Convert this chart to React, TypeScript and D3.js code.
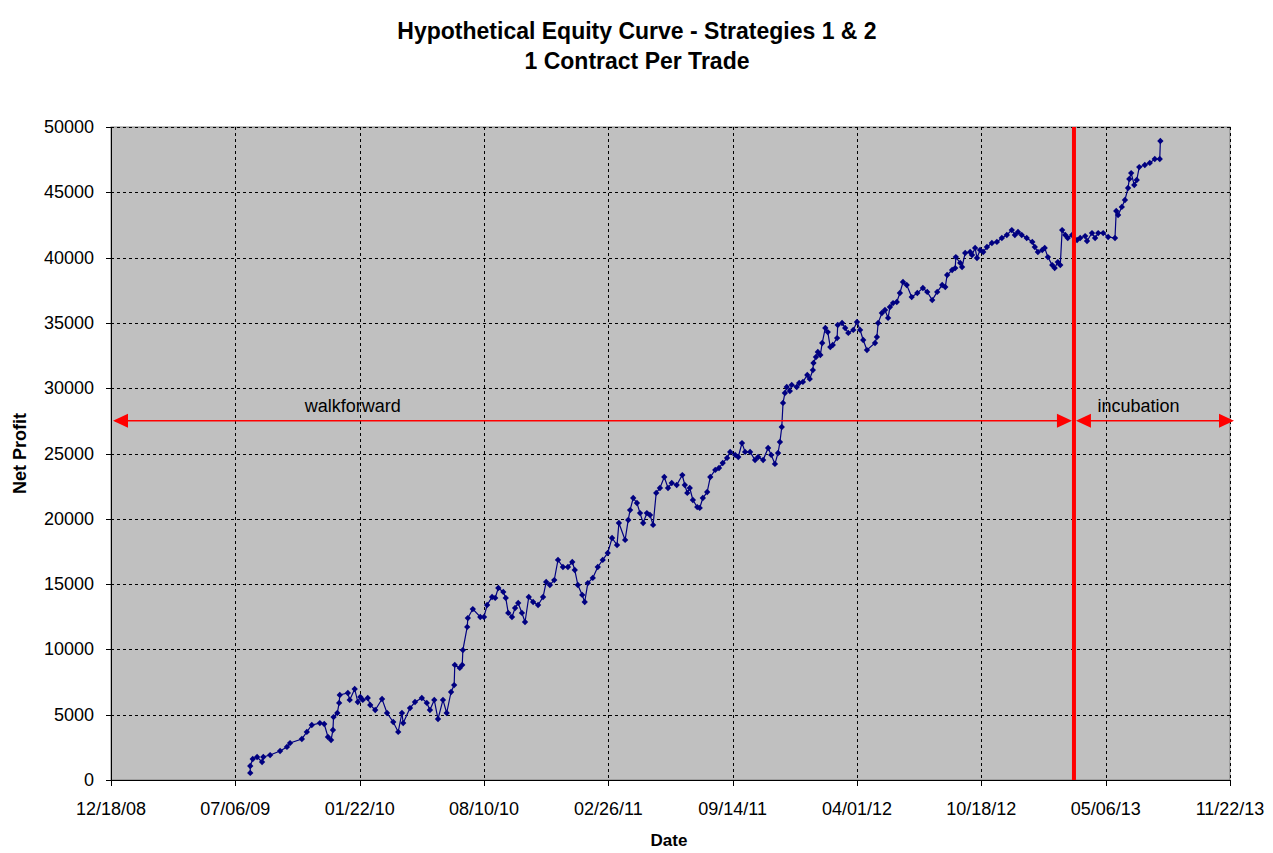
import { useEffect, useRef } from "react"
import * as d3 from "d3"

// Trade close dates as Excel serial days (days since 12/30/1899)
const tradeDays = [
  40024, 40024, 40028, 40035, 40043, 40045, 40056, 40072, 40083, 40088,
  40107, 40115, 40123, 40136, 40143, 40149, 40154, 40157, 40158, 40164,
  40167, 40168, 40181, 40184, 40192, 40197, 40201, 40205, 40213, 40217,
  40225, 40236, 40244, 40254, 40262, 40268, 40270, 40281, 40289, 40300,
  40308, 40313, 40320, 40326, 40334, 40340, 40347, 40352, 40353, 40361,
  40365, 40366, 40373, 40374, 40382, 40394, 40400, 40405, 40413, 40418,
  40423, 40431, 40435, 40439, 40445, 40450, 40455, 40461, 40466, 40472,
  40479, 40487, 40495, 40500, 40506, 40513, 40519, 40527, 40535, 40542,
  40546, 40551, 40558, 40562, 40567, 40575, 40583, 40591, 40599, 40606,
  40614, 40617, 40627, 40632, 40635, 40640, 40646, 40651, 40656, 40662,
  40667, 40672, 40677, 40683, 40690, 40696, 40702, 40710, 40719, 40723,
  40727, 40731, 40736, 40743, 40747, 40752, 40759, 40764, 40772, 40778,
  40784, 40791, 40796, 40804, 40809, 40815, 40820, 40828, 40836, 40841,
  40849, 40857, 40862, 40868, 40873, 40876, 40879, 40881, 40884, 40887,
  40892, 40895, 40903, 40907, 40913, 40920, 40924, 40929, 40930, 40934,
  40937, 40941, 40944, 40949, 40953, 40957, 40961, 40968, 40969, 40976,
  40981, 40986, 40994, 41000, 41005, 41010, 41016, 41029, 41032, 41034,
  41040, 41045, 41050, 41053, 41058, 41064, 41069, 41074, 41080, 41088,
  41097, 41106, 41113, 41121, 41129, 41137, 41142, 41145, 41153, 41158,
  41159, 41166, 41169, 41174, 41182, 41185, 41190, 41193, 41198, 41203,
  41209, 41217, 41225, 41233, 41241, 41249, 41254, 41259, 41265, 41273,
  41282, 41286, 41291, 41298, 41302, 41307, 41314, 41318, 41323, 41327,
  41330, 41335, 41339, 41346, 41354, 41359, 41367, 41370, 41378, 41383,
  41388, 41396, 41404, 41415, 41417, 41420, 41426, 41431, 41436, 41438,
  41441, 41446, 41450, 41454, 41463, 41471, 41479, 41487, 41488,
]

// Cumulative net profit after each trade ($)
const netProfit = [
  540, 1070, 1610, 1760, 1380, 1760, 1910, 2220, 2530, 2830,
  3140, 3680, 4210, 4360, 4290, 3290, 3060, 3830, 4820, 5130,
  5900, 6510, 6660, 6130, 6970, 5970, 6360, 6130, 6280, 5740,
  5360, 6200, 5130, 4440, 3680, 5130, 4360, 5510, 5970, 6280,
  5900, 5360, 6130, 4670, 6130, 5130, 6740, 7270, 8810, 8580,
  8810, 9950, 11720, 12400, 13090, 12480, 12480, 13400, 14010, 13940,
  14700, 14400, 13940, 12790, 12480, 13170, 13550, 12790, 12100, 14010,
  13630, 13400, 14010, 15160, 14930, 15310, 16850, 16310, 16310, 16690,
  16080, 14930, 14170, 13630, 15080, 15470, 16310, 16850, 17380, 18530,
  17990, 19680, 18380, 19910, 20670, 21590, 21210, 20440, 19680, 20440,
  20290, 19530, 21980, 22360, 23200, 22360, 22740, 22590, 23350, 22590,
  21980, 22360, 21440, 20900, 20830, 21590, 22050, 23200, 23740, 23890,
  24270, 24660, 25120, 24890, 24730, 25800, 25120, 25120, 24500, 24730,
  24500, 25420, 24890, 24200, 25040, 25880, 27030, 28870, 29630, 30090,
  29780, 30250, 30090, 30400, 30480, 31010, 30710, 31390, 31930, 32390,
  32770, 32540, 33460, 34610, 34300, 33150, 33310, 33840, 34840, 34990,
  34610, 34230, 34460, 35070, 34460, 33690, 32920, 33460, 33920, 34990,
  35760, 35990, 35380, 36220, 36520, 36600, 37290, 38130, 37900, 36980,
  37290, 37670, 37370, 36750, 37370, 37900, 37750, 38670, 39050, 39200,
  40040, 39590, 39280, 40350, 40430, 40200, 40740, 39970, 40580, 40430,
  40810, 41120, 41200, 41500, 41730, 42110, 41730, 41960, 41730, 41500,
  41200, 40810, 40430, 40580, 40740, 40040, 39430, 39200, 39660, 39430,
  42110, 41730, 41500, 41730, 41350, 41500, 41650, 41270, 41880, 41500,
  41880, 41880, 41580, 41500, 43570, 43260, 43880, 44410, 45330, 46020,
  46470, 45560, 45940, 46930, 47090, 47250, 47550, 47550, 48930,
]

const xTickLabels = [
  "12/18/08", "07/06/09", "01/22/10", "08/10/10", "02/26/11",
  "09/14/11", "04/01/12", "10/18/12", "05/06/13", "11/22/13",
]
const yTicks = [0, 5000, 10000, 15000, 20000, 25000, 30000, 35000, 40000, 45000, 50000]

const titleLines = ["Hypothetical Equity Curve - Strategies 1 & 2", "1 Contract Per Trade"]
const incubationStart = "03/16/13"
const arrowLevel = 27500
const walkforwardLabelAt = "01/11/10"
const incubationLabelAt = "06/28/13"

const excelEpoch = Date.UTC(1899, 11, 30)
const serialToDate = (s: number) => new Date(excelEpoch + s * 86400000)
const parseDate = d3.utcParse("%m/%d/%y")

export default function App() {
  const svgRef = useRef<SVGSVGElement>(null)

  useEffect(() => {
    if (!svgRef.current) return
    const svg = d3.select(svgRef.current)
    svg.selectAll("*").remove()

    const width = 1273
    const height = 853
    const left = 111
    const top = 127
    const right = 1230
    const bottom = 780
    const font = "'Liberation Sans', Arial, sans-serif"

    svg.attr("width", width).attr("height", height)

    const tickDates = xTickLabels.map((t) => parseDate(t) as Date)
    const x = d3
      .scaleTime()
      .domain([tickDates[0], tickDates[tickDates.length - 1]])
      .range([left, right])
    const y = d3.scaleLinear().domain([0, 50000]).range([bottom, top])

    // Title
    svg
      .append("g")
      .selectAll("text")
      .data(titleLines)
      .enter()
      .append("text")
      .attr("x", 637)
      .attr("y", (d, i) => 39 + i * 30)
      .attr("text-anchor", "middle")
      .style("font-family", font)
      .style("font-size", "23px")
      .style("font-weight", "bold")
      .text((d) => d)

    // Plot area
    svg
      .append("rect")
      .attr("x", left)
      .attr("y", top)
      .attr("width", right - left)
      .attr("height", bottom - top)
      .attr("fill", "#c0c0c0")
      .attr("stroke", "#808080")
      .attr("stroke-width", 1)

    // Gridlines
    const grid = svg.append("g").attr("stroke", "#000").attr("stroke-width", 1).attr("stroke-dasharray", "3,3")
    grid
      .selectAll(".hg")
      .data(yTicks.slice(1))
      .enter()
      .append("line")
      .attr("x1", left)
      .attr("x2", right)
      .attr("y1", (d) => Math.round(y(d)) + 0.5)
      .attr("y2", (d) => Math.round(y(d)) + 0.5)
    grid
      .selectAll(".vg")
      .data(tickDates.slice(1))
      .enter()
      .append("line")
      .attr("x1", (d) => Math.round(x(d)) + 0.5)
      .attr("x2", (d) => Math.round(x(d)) + 0.5)
      .attr("y1", top)
      .attr("y2", bottom)

    // Axes
    const axes = svg.append("g").attr("stroke", "#000").attr("stroke-width", 1)
    axes.append("line").attr("x1", left + 0.5).attr("x2", left + 0.5).attr("y1", top).attr("y2", bottom + 0.5)
    axes.append("line").attr("x1", left).attr("x2", right + 0.5).attr("y1", bottom + 0.5).attr("y2", bottom + 0.5)
    axes
      .selectAll(".yt")
      .data(yTicks)
      .enter()
      .append("line")
      .attr("x1", left - 5)
      .attr("x2", left)
      .attr("y1", (d) => Math.round(y(d)) + 0.5)
      .attr("y2", (d) => Math.round(y(d)) + 0.5)
    axes
      .selectAll(".xt")
      .data(tickDates)
      .enter()
      .append("line")
      .attr("x1", (d) => Math.round(x(d)) + 0.5)
      .attr("x2", (d) => Math.round(x(d)) + 0.5)
      .attr("y1", bottom)
      .attr("y2", bottom + 6)

    svg
      .append("g")
      .selectAll("text")
      .data(yTicks)
      .enter()
      .append("text")
      .attr("x", left - 17)
      .attr("y", (d) => y(d) + 6)
      .attr("text-anchor", "end")
      .style("font-family", font)
      .style("font-size", "18px")
      .text((d) => String(d))

    svg
      .append("g")
      .selectAll("text")
      .data(xTickLabels)
      .enter()
      .append("text")
      .attr("x", (d) => x(parseDate(d) as Date))
      .attr("y", 815)
      .attr("text-anchor", "middle")
      .style("font-family", font)
      .style("font-size", "18px")
      .text((d) => d)

    svg
      .append("text")
      .attr("x", 669)
      .attr("y", 846)
      .attr("text-anchor", "middle")
      .style("font-family", font)
      .style("font-size", "17px")
      .style("font-weight", "bold")
      .text("Date")

    svg
      .append("text")
      .attr("transform", `translate(26, ${(top + bottom) / 2}) rotate(-90)`)
      .attr("text-anchor", "middle")
      .style("font-family", font)
      .style("font-size", "18px")
      .style("font-weight", "bold")
      .text("Net Profit")

    // Equity curve
    const points = tradeDays.map((d, i) => ({ date: serialToDate(d), value: netProfit[i] }))
    const line = d3
      .line<{ date: Date; value: number }>()
      .x((d) => x(d.date))
      .y((d) => y(d.value))
    svg
      .append("path")
      .datum(points)
      .attr("d", line)
      .attr("fill", "none")
      .attr("stroke", "#000080")
      .attr("stroke-width", 1.2)

    const diamond = d3.symbol(d3.symbolSquare, 20)
    svg
      .append("g")
      .selectAll("path")
      .data(points)
      .enter()
      .append("path")
      .attr("d", diamond)
      .attr("transform", (d) => `translate(${x(d.date)},${y(d.value)}) rotate(45)`)
      .attr("fill", "#000080")

    // Walkforward / incubation annotations
    const redX = x(parseDate(incubationStart) as Date)
    const ay = y(arrowLevel)
    const red = "#ff0000"
    const ann = svg.append("g")

    ann
      .append("line")
      .attr("x1", left + 4)
      .attr("x2", redX - 6)
      .attr("y1", ay)
      .attr("y2", ay)
      .attr("stroke", red)
      .attr("stroke-width", 1.5)
    ann
      .append("line")
      .attr("x1", redX + 6)
      .attr("x2", right)
      .attr("y1", ay)
      .attr("y2", ay)
      .attr("stroke", red)
      .attr("stroke-width", 1.5)

    const head = (tipX: number, dir: number) =>
      `M${tipX},${ay}L${tipX + dir * 15},${ay - 7}L${tipX + dir * 15},${ay + 7}Z`
    const heads = [head(left + 2, 1), head(redX - 2, -1), head(redX + 2, 1), head(right + 4, -1)]
    ann.selectAll(".head").data(heads).enter().append("path").attr("d", (d) => d).attr("fill", red)

    ann
      .append("rect")
      .attr("x", redX - 2)
      .attr("y", top)
      .attr("width", 4)
      .attr("height", bottom - top)
      .attr("fill", red)

    ann
      .append("text")
      .attr("x", x(parseDate(walkforwardLabelAt) as Date))
      .attr("y", ay - 9)
      .attr("text-anchor", "middle")
      .style("font-family", font)
      .style("font-size", "18px")
      .text("walkforward")
    ann
      .append("text")
      .attr("x", x(parseDate(incubationLabelAt) as Date))
      .attr("y", ay - 9)
      .attr("text-anchor", "middle")
      .style("font-family", font)
      .style("font-size", "18px")
      .text("incubation")
  }, [])

  return (
    <div style={{ position: "absolute", left: 0, top: 0, background: "#fff" }}>
      <svg ref={svgRef}></svg>
    </div>
  )
}
